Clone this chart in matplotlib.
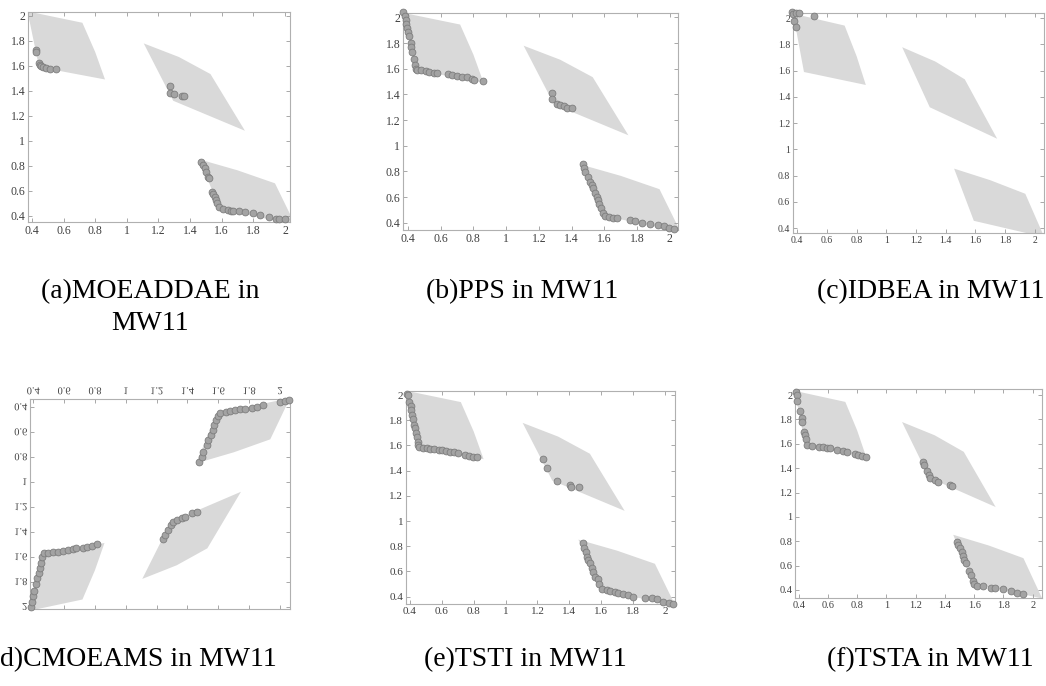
import matplotlib
matplotlib.use('Agg')
import matplotlib.pyplot as plt
from matplotlib.patheffects import AbstractPathEffect
from matplotlib.transforms import Affine2D

plt.rcParams['font.family'] = ['Liberation Serif', 'DejaVu Serif']

# feasible regions of MW11 (outline vertices)
reg1_x = [0.372, 0.719, 0.80, 0.862, 0.445]
reg1_y = [2.035, 1.944, 1.71, 1.491, 1.590]
reg2_x = [1.107, 1.33, 1.529, 1.747, 1.293]
reg2_y = [1.779, 1.67, 1.534, 1.081, 1.321]
reg3_x = [1.457, 1.70, 1.937, 2.065, 1.590]
reg3_y = [0.853, 0.765, 0.661, 0.330, 0.455]

ticks = [0.4, 0.6, 0.8, 1.0, 1.2, 1.4, 1.6, 1.8, 2.0]
tick_labels = ['0.4', '0.6', '0.8', '1', '1.2', '1.4', '1.6', '1.8', '2']

# (a) MOEADDAE
a_x = [0.423, 0.427, 0.444, 0.449, 0.458, 0.470, 0.490, 0.516, 0.550,
       1.272, 1.276, 1.297, 1.346, 1.363,
       1.472, 1.483, 1.493, 1.500, 1.515, 1.517, 1.540, 1.548, 1.556, 1.562,
       1.570, 1.582, 1.609, 1.640, 1.662, 1.673, 1.711, 1.747, 1.800, 1.842,
       1.901, 1.943, 1.960, 2.000]
a_y = [1.726, 1.708, 1.626, 1.604, 1.595, 1.588, 1.580, 1.575, 1.571,
       1.441, 1.380, 1.374, 1.358, 1.358,
       0.834, 0.807, 0.781, 0.754, 0.714, 0.700, 0.594, 0.573, 0.548, 0.528,
       0.506, 0.469, 0.453, 0.448, 0.442, 0.442, 0.437, 0.432, 0.421, 0.408,
       0.389, 0.379, 0.377, 0.376]

# (b) PPS
b_x = [0.370, 0.382, 0.386, 0.390, 0.396, 0.402, 0.408, 0.416, 0.420, 0.424,
       0.437, 0.441, 0.447, 0.457, 0.483, 0.508, 0.528, 0.562, 0.575, 0.646,
       0.670, 0.700, 0.731, 0.761, 0.792, 0.806, 0.857,
       1.279, 1.279, 1.310, 1.330, 1.354, 1.370, 1.405,
       1.468, 1.478, 1.484, 1.499, 1.513, 1.525, 1.533, 1.543, 1.553, 1.561,
       1.569, 1.577, 1.590, 1.604, 1.630, 1.655, 1.675, 1.756, 1.786, 1.833,
       1.880, 1.925, 1.965, 1.995, 2.025]
b_y = [2.039, 2.010, 1.979, 1.948, 1.914, 1.888, 1.857, 1.797, 1.771, 1.727,
       1.673, 1.629, 1.600, 1.590, 1.590, 1.582, 1.577, 1.569, 1.569, 1.558,
       1.550, 1.543, 1.538, 1.532, 1.519, 1.512, 1.504,
       1.410, 1.366, 1.327, 1.319, 1.311, 1.296, 1.291,
       0.857, 0.823, 0.797, 0.758, 0.719, 0.693, 0.667, 0.634, 0.603, 0.577,
       0.545, 0.512, 0.479, 0.453, 0.442, 0.440, 0.434, 0.420, 0.416, 0.400,
       0.392, 0.384, 0.372, 0.362, 0.352]

# (c) IDBEA
c_x = [0.364, 0.371, 0.393, 0.411, 0.380, 0.389, 0.514]
c_y = [2.046, 2.033, 2.038, 2.038, 1.982, 1.936, 2.018]

# (d) CMOEAMS
d_x = [0.385, 0.391, 0.400, 0.406, 0.417, 0.426, 0.437, 0.443, 0.452, 0.458,
       0.469, 0.497, 0.530, 0.562, 0.595, 0.627, 0.659, 0.677, 0.720, 0.750,
       0.778, 0.811,
       1.243, 1.254, 1.271, 1.291, 1.304, 1.330, 1.362, 1.384, 1.427, 1.464,
       1.477, 1.492, 1.503, 1.524, 1.535, 1.550, 1.563, 1.574, 1.585, 1.596,
       1.611, 1.650, 1.676, 1.708, 1.741, 1.773, 1.821, 1.849, 1.892, 2.000,
       2.032, 2.061]
d_y = [2.000, 1.960, 1.915, 1.872, 1.821, 1.773, 1.733, 1.693, 1.648, 1.600,
       1.573, 1.568, 1.563, 1.560, 1.552, 1.547, 1.541, 1.533, 1.528, 1.523,
       1.512, 1.499,
       1.461, 1.427, 1.387, 1.347, 1.320, 1.307, 1.293, 1.280, 1.253, 1.245,
       0.840, 0.800, 0.760, 0.707, 0.667, 0.627, 0.587, 0.547, 0.507, 0.475,
       0.448, 0.440, 0.435, 0.427, 0.421, 0.416, 0.408, 0.400, 0.387, 0.360,
       0.355, 0.347]

# (e) TSTI
e_x = [0.383, 0.387, 0.396, 0.404, 0.406, 0.415, 0.419, 0.427, 0.431, 0.438,
       0.446, 0.448, 0.452, 0.459, 0.484, 0.505, 0.526, 0.553, 0.584, 0.599,
       0.624, 0.651, 0.676, 0.703, 0.745, 0.772, 0.797, 0.818,
       1.237, 1.262, 1.321, 1.404, 1.408, 1.461,
       1.484, 1.492, 1.502, 1.509, 1.519, 1.530, 1.540, 1.551, 1.561, 1.582,
       1.588, 1.603, 1.634, 1.655, 1.687, 1.707, 1.735, 1.770, 1.802, 1.875,
       1.917, 1.948, 1.986, 2.028, 2.050]
e_y = [2.008, 2.000, 1.947, 1.913, 1.881, 1.841, 1.807, 1.762, 1.735, 1.696,
       1.669, 1.630, 1.603, 1.585, 1.582, 1.577, 1.571, 1.569, 1.563, 1.561,
       1.556, 1.550, 1.545, 1.537, 1.524, 1.519, 1.511, 1.505,
       1.492, 1.423, 1.320, 1.286, 1.272, 1.267,
       0.823, 0.783, 0.751, 0.717, 0.690, 0.664, 0.630, 0.593, 0.558, 0.537,
       0.497, 0.458, 0.452, 0.447, 0.439, 0.431, 0.421, 0.413, 0.400, 0.392,
       0.392, 0.378, 0.360, 0.350, 0.343]

# (f) TSTA
f_x = [0.382, 0.386, 0.391, 0.409, 0.421, 0.425, 0.436, 0.443, 0.448, 0.455,
       0.493, 0.541, 0.564, 0.596, 0.614, 0.664, 0.701, 0.728, 0.785, 0.808,
       0.831, 0.860,
       1.252, 1.259, 1.280, 1.293, 1.298, 1.332, 1.355, 1.435, 1.451,
       1.485, 1.492, 1.503, 1.515, 1.521, 1.530, 1.544, 1.567, 1.578, 1.590,
       1.601, 1.622, 1.663, 1.713, 1.742, 1.799, 1.850, 1.895, 1.936]
f_y = [2.027, 2.000, 1.951, 1.869, 1.814, 1.781, 1.699, 1.672, 1.636, 1.590,
       1.582, 1.576, 1.571, 1.568, 1.562, 1.549, 1.540, 1.535, 1.516, 1.508,
       1.500, 1.494,
       1.453, 1.426, 1.376, 1.344, 1.316, 1.303, 1.289, 1.259, 1.253,
       0.796, 0.769, 0.742, 0.714, 0.679, 0.646, 0.619, 0.559, 0.523, 0.477,
       0.450, 0.436, 0.433, 0.419, 0.413, 0.405, 0.392, 0.372, 0.364]

W, H = 1046, 686


class FlipV(AbstractPathEffect):
    # mirror a text upside down about its own centre (panel d is flipped)
    def draw_path(self, renderer, gc, tpath, affine, rgbFace=None):
        bb = tpath.get_extents(affine)
        cy = 0.5 * (bb.y0 + bb.y1)
        flip = Affine2D().translate(0, -cy).scale(1, -1).translate(0, cy)
        renderer.draw_path(gc, tpath, affine + flip, rgbFace)


def panel(box, xs, ys, xlim, ylim, fs, flipped=False):
    l, t, r, b = box
    ax = fig.add_axes([l / W, 1 - b / H, (r - l) / W, (b - t) / H])
    for rx, ry in [(reg1_x, reg1_y), (reg2_x, reg2_y), (reg3_x, reg3_y)]:
        ax.fill(rx, ry, color='#d9d9d9', lw=0)
    ax.scatter(xs, ys, s=24, c='#a3a3a3', edgecolors='#7d7d7d',
               linewidths=0.6, clip_on=False, zorder=3)
    ax.set_xlim(xlim)
    ax.set_ylim(ylim)
    ax.set_xticks(ticks)
    ax.set_xticklabels(tick_labels)
    ax.set_yticks(ticks)
    ax.set_yticklabels(tick_labels)
    ax.tick_params(direction='in', length=3, width=0.6, color='#9a9a9a',
                   labelsize=fs, labelcolor='#404040', pad=2,
                   top=True, right=True)
    for s in ax.spines.values():
        s.set_color('#b0b0b0')
        s.set_linewidth(0.8)
    if flipped:
        ax.invert_yaxis()
        ax.tick_params(labeltop=True, labelbottom=False)
        for lab in ax.get_xticklabels(which='both') + ax.get_yticklabels():
            lab.set_path_effects([FlipV()])
    return ax


fig = plt.figure(figsize=(W / 100, H / 100), dpi=100)

panel((28, 12, 290, 222), a_x, a_y, (0.375, 2.032), (0.352, 2.03), 8.5)
panel((403, 13, 678, 230), b_x, b_y, (0.37, 2.05), (0.343, 2.034), 8.5)
panel((793, 13, 1044, 233), c_x, c_y, (0.371, 2.063), (0.362, 2.04), 7)
panel((30, 399, 290, 609), d_x, d_y, (0.379, 2.065), (0.338, 2.02), 7.5,
      flipped=True)
panel((406, 391, 675, 604), e_x, e_y, (0.375, 2.063), (0.342, 2.032), 8)
panel((795, 389, 1042, 598), f_x, f_y, (0.375, 2.064), (0.334, 2.05), 7.5)

cap = dict(fontsize=20, ha='center', va='center', color='black')
fig.text(150 / W, 1 - 292 / H, '(a)MOEADDAE in', **cap)
fig.text(150 / W, 1 - 323 / H, 'MW11', **cap)
fig.text(522 / W, 1 - 292 / H, '(b)PPS in MW11', **cap)
fig.text(931 / W, 1 - 292 / H, '(c)IDBEA in MW11', **cap)
fig.text(0, 1 - 660 / H, 'd)CMOEAMS in MW11', fontsize=20, ha='left',
         va='center')
fig.text(525 / W, 1 - 660 / H, '(e)TSTI in MW11', **cap)
fig.text(930 / W, 1 - 660 / H, '(f)TSTA in MW11', **cap)

fig.savefig('out.png', dpi=100)
